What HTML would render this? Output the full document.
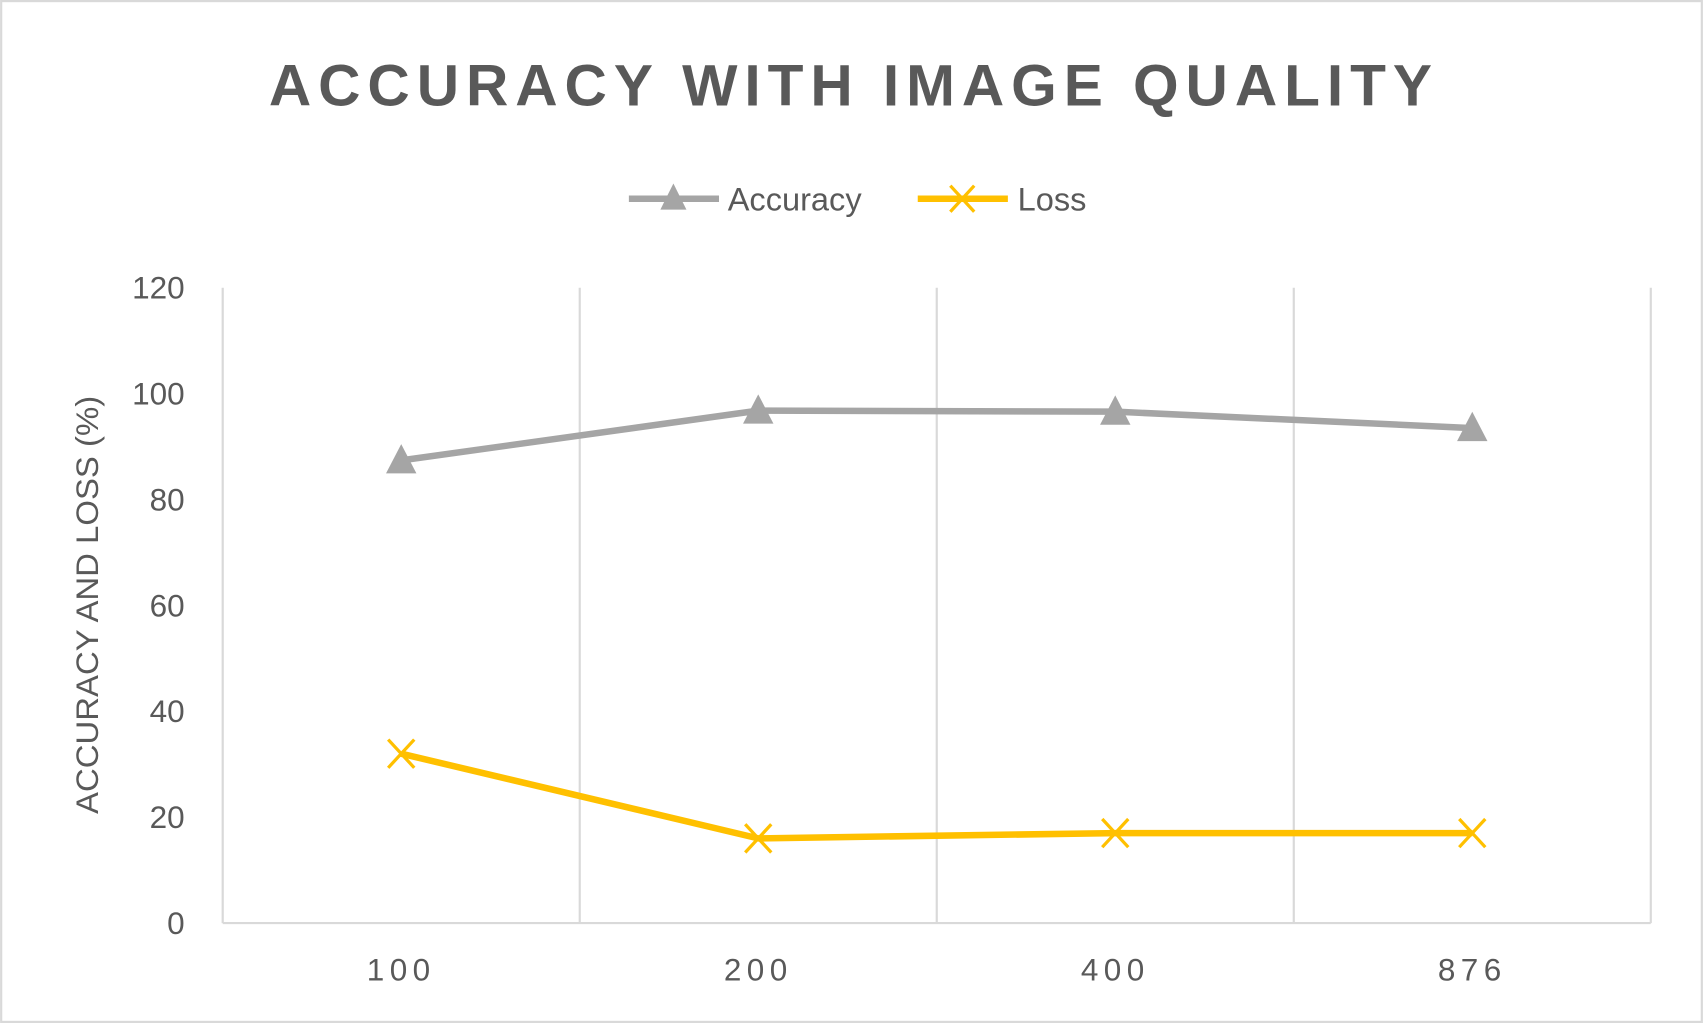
<!DOCTYPE html>
<html><head><meta charset="utf-8"><style>
html,body{margin:0;padding:0;background:#fff;}
svg{display:block;font-family:"Liberation Sans",sans-serif;}
</style></head><body>
<svg id="chart" width="1703" height="1023" viewBox="0 0 1568 942" xmlns="http://www.w3.org/2000/svg">
<rect x="1" y="1" width="1566" height="940" fill="#fff" stroke="#d9d9d9" stroke-width="2"/>
<text x="783" y="97" text-anchor="middle" font-size="54" font-weight="bold" fill="#595959" textLength="1071" lengthAdjust="spacing">ACCURACY WITH IMAGE QUALITY</text>
<g>
  <g>
    <line x1="579" y1="183" x2="662" y2="183" stroke="#a5a5a5" stroke-width="6"/>
    <polygon points="620,169 608,193 632,193" fill="#a5a5a5"/>
    <text x="670" y="194" font-size="30" fill="#595959">Accuracy</text>
  </g>
  <g>
    <line x1="845" y1="183" x2="928" y2="183" stroke="#ffc000" stroke-width="6"/>
    <path d="M875,171 L897,195 M897,171 L875,195" stroke="#ffc000" stroke-width="3"/>
    <text x="937" y="194" font-size="30" fill="#595959">Loss</text>
  </g>
</g>
<text transform="translate(90,557) rotate(-90)" text-anchor="middle" font-size="29" fill="#595959" textLength="385" lengthAdjust="spacingAndGlyphs">ACCURACY AND LOSS (%)</text>
<g id="grid"></g>
<g id="axes"></g>
<g id="series"></g>
</svg>
<script>
const categories = ["100","200","400","876"];
const accuracy = [87.4, 96.8, 96.6, 93.5];
const loss = [32, 16, 17, 17];
const yTicks = [0,20,40,60,80,100,120];

const NS="http://www.w3.org/2000/svg";
const L=205,R=1520,T=265,B=850,yMax=120;
const band=(R-L)/categories.length;
const x=i=>L+band*(i+0.5);
const y=v=>B-(v/yMax)*(B-T);
function mk(tag,attrs,parent){const e=document.createElementNS(NS,tag);for(const k in attrs)e.setAttribute(k,attrs[k]);parent.appendChild(e);return e;}
const grid=document.getElementById('grid'),axes=document.getElementById('axes'),series=document.getElementById('series');
for(let i=0;i<=categories.length;i++){
  const gx=L+band*i;
  const g=mk('line',{x1:gx,y1:T,x2:gx,y2:B,stroke:'#d9d9d9','stroke-width':2},grid);
  
  
}
const ax=mk('line',{x1:L,y1:B,x2:R,y2:B,stroke:'#d9d9d9','stroke-width':2},axes);


yTicks.forEach(t=>{
  const tx=mk('text',{x:170,y:y(t)+10,'text-anchor':'end','font-size':29,fill:'#595959'},axes);
  tx.textContent=t;
  
  
});
categories.forEach((c,i)=>{
  const tx=mk('text',{x:x(i),y:903,'text-anchor':'middle','font-size':29,fill:'#595959','letter-spacing':5},axes);
  tx.textContent=c;
  
  
});
function drawLine(vals,color,name){
  const p=mk('polyline',{points:vals.map((v,i)=>x(i)+','+y(v)).join(' '),fill:'none',stroke:color,'stroke-width':6,'stroke-linejoin':'round'},series);
  
  
}
drawLine(accuracy,'#a5a5a5','accuracy');
drawLine(loss,'#ffc000','loss');
accuracy.forEach((v,i)=>{
  const cx=x(i),cy=y(v);
  const m=mk('polygon',{points:`${cx},${cy-15} ${cx-14},${cy+12} ${cx+14},${cy+12}`,fill:'#a5a5a5'},series);
  
  
});
loss.forEach((v,i)=>{
  const cx=x(i),cy=y(v);
  const m=mk('path',{d:`M${cx-12},${cy-13} L${cx+12},${cy+13} M${cx+12},${cy-13} L${cx-12},${cy+13}`,stroke:'#ffc000','stroke-width':3,fill:'none'},series);
  
  
});
</script>
</body></html>
